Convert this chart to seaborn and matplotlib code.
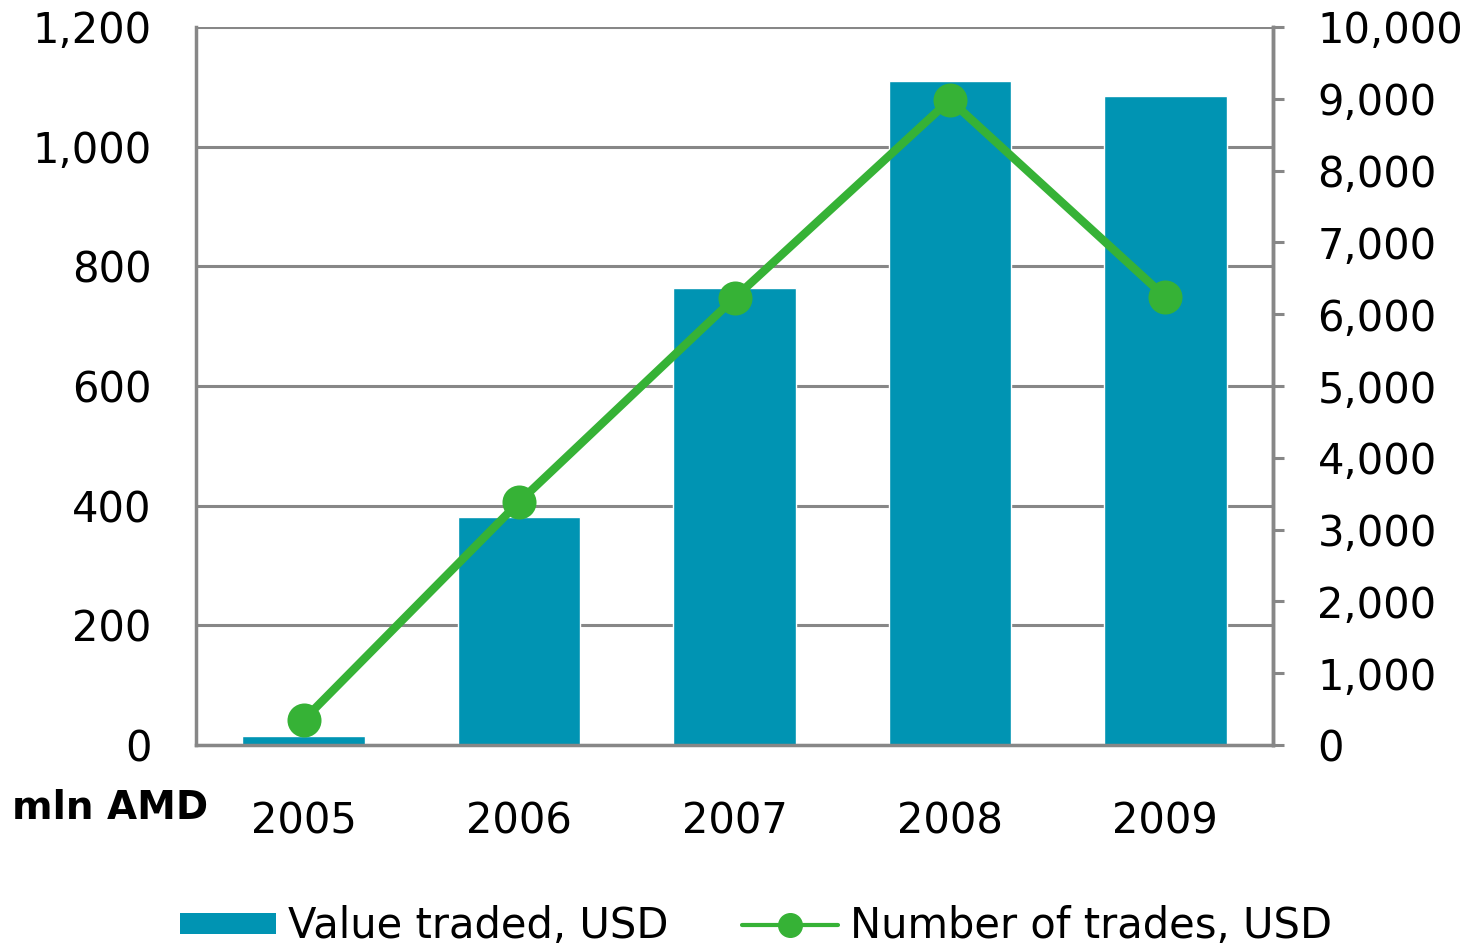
import seaborn as sns
import matplotlib.pyplot as plt
from matplotlib.patches import Patch
from matplotlib.lines import Line2D
from matplotlib.ticker import FuncFormatter, MultipleLocator

years = ["2005", "2006", "2007", "2008", "2009"]
value_traded = [15, 381, 764, 1110, 1085]
num_trades = [350, 3385, 6225, 8985, 6240]

bar_color = "#0094B3"
line_color = "#36B236"
grey = "#878787"

sns.set_style("white")
plt.rcParams["font.family"] = ["DejaVu Sans"]
plt.rcParams["text.color"] = "black"
plt.rcParams["xtick.labelcolor"] = "black"
plt.rcParams["ytick.labelcolor"] = "black"

fig = plt.figure(figsize=(14.71, 9.46), dpi=100)
ax = fig.add_axes([196 / 1471, 1 - 745 / 946, (1273 - 196) / 1471, (745 - 27) / 946])

sns.barplot(x=years, y=value_traded, order=years, color=bar_color,
            saturation=1, width=0.57, ax=ax, zorder=2)
ax.set_ylim(0, 1200)
ax.set_xlim(-0.5, 4.5)
ax.yaxis.set_major_locator(MultipleLocator(200))
ax.yaxis.set_major_formatter(FuncFormatter(lambda v, p: f"{int(v):,}"))
ax.grid(axis="y", color=grey, linewidth=2.2)
ax.set_axisbelow(True)
ax.set_xlabel("")
ax.set_ylabel("")
ax.tick_params(axis="y", length=0, pad=32, labelsize=30, labelcolor="black")
ax.tick_params(axis="x", length=0, pad=40, labelsize=30, labelcolor="black")
for s in ["left", "bottom", "right"]:
    ax.spines[s].set_color(grey)
    ax.spines[s].set_linewidth(2.5)
ax.spines["top"].set_visible(False)

ax2 = ax.twinx()
sns.pointplot(x=years, y=num_trades, order=years, color=line_color,
              markers="o", markersize=20, linewidth=6, errorbar=None, ax=ax2)
ax2.set_ylim(0, 10000)
ax2.set_xlim(-0.5, 4.5)
ax2.yaxis.set_major_locator(MultipleLocator(1000))
ax2.yaxis.set_major_formatter(FuncFormatter(lambda v, p: f"{int(v):,}"))
ax2.set_ylabel("")
ax2.set_xlabel("")
ax2.tick_params(axis="y", right=True, length=8, width=2.2, color=grey,
                pad=24, labelsize=30, labelcolor="black", direction="out")
for s in ["left", "bottom", "top"]:
    ax2.spines[s].set_visible(False)
ax2.spines["right"].set_color(grey)
ax2.spines["right"].set_linewidth(2.5)

fig.text(12 / 1471, 1 - 808 / 946, "mln AMD", fontsize=28, fontweight="bold",
         color="black", ha="left", va="center")

handles = [
    Patch(facecolor=bar_color, edgecolor="none", label="Value traded, USD"),
    Line2D([0], [0], color=line_color, linewidth=3, marker="o", markersize=17,
           label="Number of trades, USD"),
]
fig.legend(handles=handles, loc="center", bbox_to_anchor=(0.514, 0.021),
           ncol=2, frameon=False, fontsize=30, handlelength=2.3,
           handleheight=0.4, handletextpad=0.3, columnspacing=1.75)

fig.savefig("out.png", dpi=100)
